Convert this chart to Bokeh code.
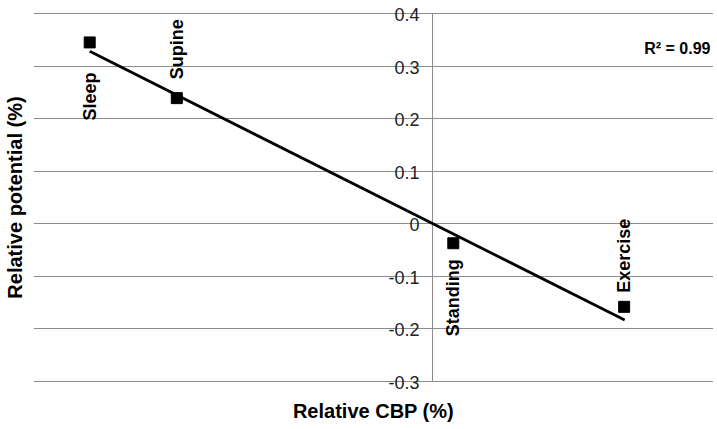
import numpy as np
from bokeh.plotting import figure
from bokeh.models import ColumnDataSource, FixedTicker, Range1d, Label
from bokeh.embed import file_html
from bokeh.resources import INLINE
from bokeh.core.properties import value

# ---- data ----
conditions = ["Sleep", "Supine", "Standing", "Exercise"]
rel_cbp = [-0.610, -0.455, 0.037, 0.341]
rel_potential = [0.345, 0.239, -0.037, -0.158]
trend_x = [-0.610, 0.342]          # trend line ends
trend_y = [0.328, -0.183]
y_ticks = [-0.3, -0.2, -0.1, 0.0, 0.1, 0.2, 0.3, 0.4]
y_tick_labels = ["-0.3", "-0.2", "-0.1", "0", "0.1", "0.2", "0.3", "0.4"]
r2_text = "R\u00b2 = 0.99"
x_limits = (-0.71, 0.5)
y_limits = (-0.3, 0.4)

# ---- style ----
label_side = ["below", "above", "below", "above"]
label_gap = [30, 19, 16, 14]
FONT = "Liberation Sans"
GRID = "#8c8c8c"
PLOT_PX = 368          # pixel height between the -0.3 and 0.4 gridlines
PAD_PX = 11            # room above/below so edge tick labels are not clipped
pad = (y_limits[1] - y_limits[0]) * PAD_PX / PLOT_PX

p = figure(width=713, height=424, output_backend="svg", toolbar_location=None,
           x_range=Range1d(*x_limits),
           y_range=Range1d(y_limits[0] - pad, y_limits[1] + pad),
           min_border_left=33, min_border_right=0, min_border_top=2,
           min_border_bottom=32)
p.outline_line_color = None
p.background_fill_color = "white"
p.border_fill_color = "white"

p.xgrid.visible = False
p.ygrid.ticker = FixedTicker(ticks=y_ticks)
p.ygrid.grid_line_color = GRID
p.ygrid.grid_line_width = 1

for ax, lbl in ((p.xaxis, "Relative CBP (%)"), (p.yaxis, "Relative potential (%)")):
    ax.ticker = FixedTicker(ticks=[])
    ax.axis_line_color = None
    ax.major_tick_line_color = None
    ax.minor_tick_line_color = None
    ax.major_tick_out = 0
    ax.major_tick_in = 0
    ax.major_label_standoff = 0
    ax.axis_label = lbl
    ax.axis_label_text_font = FONT
    ax.axis_label_text_font_style = "bold"
    ax.axis_label_text_font_size = "20px"
    ax.axis_label_text_color = "black"
p.xaxis.axis_label_standoff = 7
p.yaxis.axis_label_standoff = 8

# central vertical axis at x = 0
p.segment(x0=[0], y0=[y_ticks[0]], x1=[0], y1=[y_ticks[-1]],
          line_color=GRID, line_width=1)
p.text(x=[0] * len(y_ticks), y=y_ticks, text=y_tick_labels,
       text_align="right", text_baseline="middle", x_offset=-13, y_offset=1,
       text_font=value(FONT), text_font_size="18px", text_color="#222222")

# trend line and points
p.line(trend_x, trend_y, line_width=2.75, line_color="black")
p.scatter(rel_cbp, rel_potential, marker="square", size=11,
          fill_color="black", line_color="black")

# rotated point labels
src = ColumnDataSource(dict(
    x=rel_cbp, y=rel_potential, t=conditions,
    align=["right" if s == "below" else "left" for s in label_side],
    dy=[g if s == "below" else -g for s, g in zip(label_side, label_gap)],
))
p.text(x="x", y="y", text="t", source=src, angle=np.pi / 2,
       text_align="align", text_baseline="middle", y_offset="dy",
       text_font=value(FONT), text_font_style="bold", text_font_size="18px",
       text_color="black")

p.add_layout(Label(x=x_limits[1], y=0.333, text=r2_text, x_offset=-3,
                   text_align="right", text_baseline="middle",
                   text_font=FONT, text_font_style="bold",
                   text_font_size="16px", text_color="black"))

open("out.html", "w").write(file_html(p, INLINE))
